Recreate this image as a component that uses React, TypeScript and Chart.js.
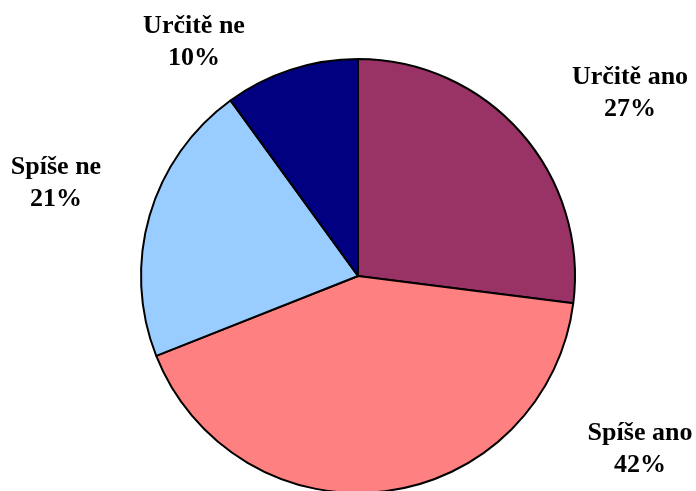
import React, { useEffect, useRef } from "react";
import { Chart, registerables } from "chart.js";

Chart.register(...registerables);

const categories = ["Určitě ano", "Spíše ano", "Spíše ne", "Určitě ne"];
const values = [27, 42, 21, 10];
const colors = ["#993366", "#FF8080", "#99CCFF", "#000080"];
// label anchor positions (canvas px) for each category
const labelPos = [
  [630, 77],
  [640, 433],
  [56, 167],
  [194, 26],
];

const labelPlugin = {
  id: "pieLabels",
  afterDraw(chart: any) {
    const ctx = chart.ctx;
    const data = chart.data.datasets[0].data as number[];
    const total = data.reduce((a, b) => a + b, 0);
    ctx.save();
    ctx.fillStyle = "#000";
    ctx.font = "bold 26px 'Liberation Serif', 'Times New Roman', serif";
    ctx.textAlign = "center";
    ctx.textBaseline = "middle";
    chart.data.labels.forEach((lab: string, i: number) => {
      const [x, y] = labelPos[i];
      ctx.fillText(lab, x, y);
      ctx.fillText(Math.round((data[i] / total) * 100) + "%", x, y + 32);
    });
    ctx.restore();
  },
};

export default function App() {
  const ref = useRef<HTMLCanvasElement>(null);
  useEffect(() => {
    const chart = new Chart(ref.current!, {
      type: "pie",
      data: {
        labels: categories,
        datasets: [
          {
            data: values,
            backgroundColor: colors,
            borderColor: "#000",
            borderWidth: 2,
          },
        ],
      },
      options: {
        responsive: false,
        animation: false,
        layout: { padding: { left: 140, right: 120, top: 58, bottom: 58 } },
        plugins: { legend: { display: false }, tooltip: { enabled: false } },
      },
      plugins: [labelPlugin],
    });
    return () => chart.destroy();
  }, []);
  return (
    <div
      style={{
        position: "absolute",
        left: 0,
        top: 0,
        width: 696,
        height: 491,
        overflow: "hidden",
        background: "#fff",
      }}
    >
      <canvas ref={ref} width={696} height={552} style={{ width: 696, height: 552 }} />
    </div>
  );
}
